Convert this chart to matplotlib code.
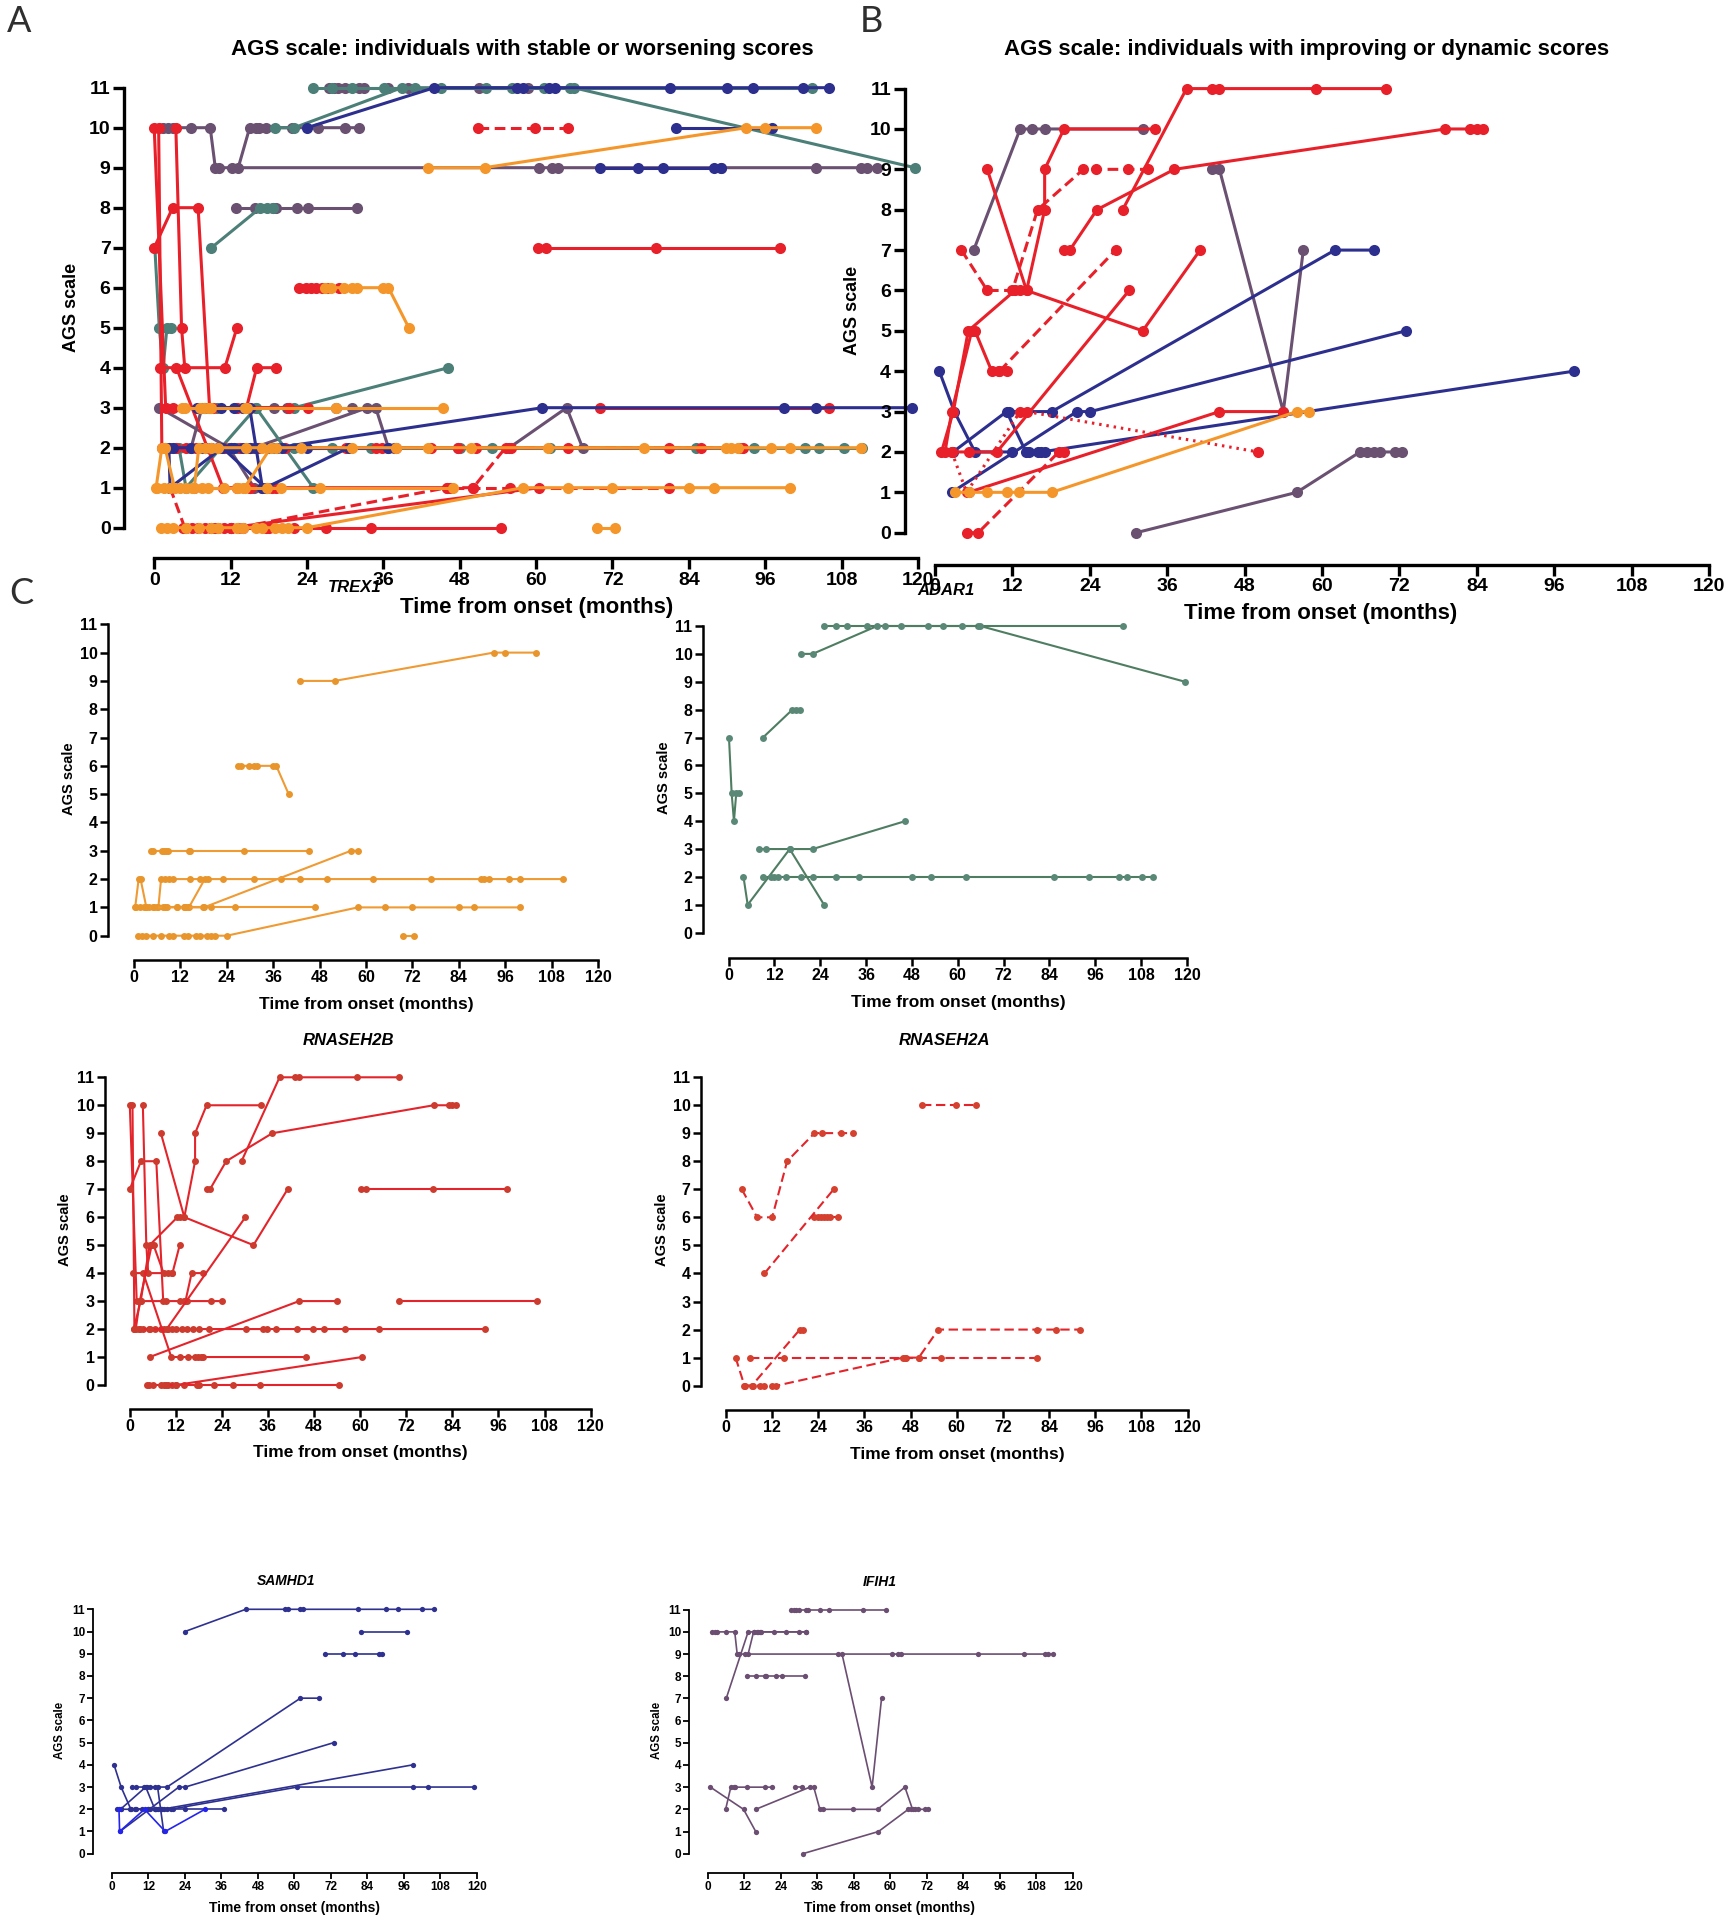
import matplotlib
matplotlib.use('Agg')
import matplotlib.pyplot as plt

W, H, DPI = 1728, 1920, 100
fig = plt.figure(figsize=(W / DPI, H / DPI), dpi=DPI)

NARROW = ['Liberation Sans Narrow', 'Liberation Sans', 'DejaVu Sans']
SANS = ['Liberation Sans', 'DejaVu Sans']

# ---------------------------------------------------------------- data
X_TICKS = list(range(0, 121, 12))
Y_TICKS = list(range(0, 12))

# TREX1 ------------------------------------------------------------
TREX1_A = [
    ([43, 51.9, 93, 96, 104], [9, 9, 10, 10, 10]),
    ([26.9, 27.8, 29.8, 31, 31.8, 36, 36.8, 40], [6, 6, 6, 6, 6, 6, 6, 5]),
    ([4.4, 4.9, 7.2, 7.8, 8.4, 8.9, 14.3, 14.6, 28.5, 45.3], [3] * 10),
    ([0.3, 1.2, 1.7, 3.2, 6.3, 7, 8, 9, 10, 14.5, 17, 19.2, 23, 31, 38, 43, 49.8, 61.9, 76.9, 89.8, 90.6, 91.7, 96.9, 99.9, 111],
     [1, 2, 2, 1, 1] + [2] * 20),
    ([0.5, 1.5, 2.5, 4, 5, 6, 7.5, 8.5, 11, 13, 14, 17.8, 19.9, 26, 46.9], [1] * 15),
    ([13.2, 14.2, 18.3], [1, 1, 2]),
    ([1, 2, 3, 5, 7, 9, 10, 13, 14, 16, 17, 19, 20, 21, 24, 57.9, 65, 72, 84, 88, 99.9], [0] * 15 + [1] * 6),
    ([69.5, 72.4], [0, 0]),
]
TREX1_B = [
    ([3.1, 5.2, 8.1, 11.1, 13.1, 18.1, 56.1, 58], [1, 1, 1, 1, 1, 1, 3, 3]),
]

# ADAR1 ------------------------------------------------------------
ADAR1_A = [
    ([25, 28, 31, 36.1, 65.3, 103.3], [11] * 6),
    ([19, 22, 38.9, 41, 45.1, 52.2, 56.2, 61.2, 65.9, 119.5], [10, 10, 11, 11, 11, 11, 11, 11, 11, 9]),
    ([9, 16.7, 17.7, 18.7], [7, 8, 8, 8]),
    ([0.1, 0.8, 1.4, 2, 2.6], [7, 5, 4, 5, 5]),
    ([7.9, 9.9, 16, 22, 46.2], [3, 3, 3, 3, 4]),
    ([3.9, 5, 16, 25], [2, 1, 3, 1]),
    ([8.9, 11, 12, 13, 15.1, 18.9, 22, 28, 34.1, 48, 53.1, 62.2, 85.2, 94.3, 102.3, 104.4, 108.3, 111.2], [2] * 18),
]
ADAR1_B = []

# RNASEH2B ---------------------------------------------------------
RNASEH2B_A = [
    ([0, 1.8, 2.9, 13, 14, 15, 21.2, 24.1], [10, 3, 3, 3, 3, 3, 3, 3]),
    ([0.7, 1.2, 2.3, 3.5, 5, 6.5, 8, 9, 10, 11, 12, 13.5, 15, 16.5, 18, 20.5, 30.2, 34.8, 35.8, 38, 43.5, 47.8, 50.5, 56, 65, 92.5],
     [10] + [2] * 25),
    ([3.4, 4.3, 4.8, 11.1, 13], [10, 5, 4, 4, 5]),
    ([0, 2.9, 6.9, 8.7, 9.3], [7, 8, 8, 3, 3]),
    ([0.9, 3.5, 10.8, 13, 15.1, 17, 17.8, 18.5, 19.1, 46], [4, 4, 1, 1, 1, 1, 1, 1, 1, 1]),
    ([14.5, 16.1, 19.1], [3, 4, 4]),
    ([4.5, 5, 6, 8, 9, 10, 11, 12, 14, 17.5, 18, 22, 27, 34, 54.5], [0] * 15),
    ([9.5, 12, 60.5], [0, 0, 1]),
    ([60.3, 61.5, 78.9, 98.3], [7, 7, 7, 7]),
    ([70, 106], [3, 3]),
]
RNASEH2B_B = [
    ([29.1, 39, 42.9, 44.1, 59.1, 70], [8, 11, 11, 11, 11, 11]),
    ([20, 20.9, 25.1, 37.1, 79.1, 83, 84, 85], [7, 7, 8, 9, 10, 10, 10, 10]),
    ([1.0, 2.84, 5.16, 12.4, 13.2, 14.2, 17.0, 17.0, 20.0, 34.1], [2, 3, 5, 6, 6, 6, 8, 9, 10, 10]),
    ([8.1, 14.2, 32.2, 41.1], [9, 6, 5, 7]),
    ([1.55, 2.6, 5.7, 6.2, 8.8, 10.0, 11.1], [2, 3, 5, 5, 4, 4, 4]),
    ([2.6, 5.2, 9.6, 30.1], [2, 2, 2, 6]),
    ([5.2, 44.1, 54], [1, 3, 3]),
]

# RNASEH2A ---------------------------------------------------------
RNASEH2A_A = [
    ([50.9, 59.8, 65], [10, 10, 10]),
    ([22.8, 23.8, 24.6, 25.4, 26.3, 27.1, 29], [6] * 7),
    ([2.5, 4.8, 6.9, 8.9, 9.8, 12, 13.1, 46, 46.7, 50.1, 55.2, 80.9, 85.9, 91.9],
     [1, 0, 0, 0, 0, 0, 0, 1, 1, 1, 2, 2, 2, 2]),
    ([6.2, 15.1, 46.5, 50.1, 55.9, 80.9], [1] * 6),
]
RNASEH2A_B = [
    ([4.1, 8.1, 12, 15.9, 23, 24.9, 30, 33.1], [7, 6, 6, 8, 9, 9, 9, 9]),
    ([10, 28], [4, 7]),
    ([4.9, 6.7, 19.2, 20], [0, 0, 2, 2]),
]

# RNASEH2C (dotted, panel B only) ----------------------------------
RNASEH2C_B = [
    ([2.6, 4.9, 13.2, 14.2, 50.1], [2, 1, 3, 3, 2]),
]

# SAMHD1 -----------------------------------------------------------
SAMHD1_A = [
    ([24, 44, 57, 58, 62, 63, 81, 90, 94, 102, 106], [10] + [11] * 10),
    ([82, 97], [10, 10]),
    ([70, 76, 80, 88, 89], [9] * 5),
    ([1.7, 3, 7.5, 12.5, 15, 19.3, 61, 99, 104, 119], [2, 2, 2, 2, 2, 2, 3, 3, 3, 3]),
    ([6.7, 8, 10.5, 12.5, 14, 15, 17], [3, 3, 3, 3, 3, 3, 1]),
    ([5.8, 8, 10, 12, 14, 16, 18, 20, 24, 36.7], [2] * 10),
]
SAMHD1_A_LIGHT = [
    ([2.3, 2.5, 10.7, 17.5, 30.6], [2, 1, 2, 1, 2]),
]
SAMHD1_B = [
    ([0.67, 3, 6.2, 12], [4, 3, 2, 2]),
    ([2.8, 11.1, 14.1, 16, 17], [2, 3, 2, 2, 2]),
    ([2.6, 22, 24.1, 73], [1, 3, 3, 5]),
    ([11.5, 18.1, 62, 68.1], [3, 3, 7, 7]),
    ([14.5, 16.5, 99], [2, 2, 4]),
]

# IFIH1 ------------------------------------------------------------
IFIH1_A = [
    ([27.4, 28.2, 28.9, 29.9, 32.1, 32.9, 36.8, 39.9, 51.1, 58.7], [11] * 10),
    ([1.4, 2.2, 3, 5.8, 8.8, 9.6, 10.2, 60.5, 62.5, 63.5, 89, 104, 111, 112, 113.5], [10] * 5 + [9] * 10),
    ([12.2, 13.2, 15, 16, 16.5, 17.6, 21.7, 25.8, 29.9, 32.1], [9, 9] + [10] * 8),
    ([12.8, 15.9, 18.7, 19.2, 22.5, 24.2, 31.8], [8] * 7),
    ([0.8, 11.7, 15.7], [3, 2, 1]),
    ([5.8, 7.5, 8.6, 9, 12.8, 18.9, 20.9], [2, 3, 3, 3, 3, 3, 3]),
    ([15.7, 33.5, 34.8, 36.8, 37.7, 47.8, 55.8, 64.8, 67.3], [2, 3, 3, 2, 2, 2, 2, 3, 2]),
    ([28.5, 31], [3, 3]),
]
IFIH1_B = [
    ([6, 13.2, 15.1, 17, 32.2], [7, 10, 10, 10, 10]),
    ([31.2, 56.1, 65.9, 66.9, 68, 69, 71.3, 72.4], [0, 1, 2, 2, 2, 2, 2, 2]),
    ([42.9, 44.1, 54, 57.1], [9, 9, 3, 7]),
]

# ---------------------------------------------------------------- styles
RED = '#E8202A'
NAVY = '#2D2F8E'
TEAL = '#4B7F78'
PURPLE = '#6A5071'
ORANGE = '#F5962A'


def fx(x):
    return x / W


def fy(y):
    return 1 - y / H


def make_axes(x0, x120, y11, y0):
    return fig.add_axes([fx(x0), fy(y0), (x120 - x0) / W, (y0 - y11) / H])


def style_axes(ax, left_off, bottom_off, spine_lw, tick_len, tick_fs, pad):
    ax.set_xlim(0, 120)
    ax.set_ylim(0, 11)
    ax.patch.set_visible(False)
    for s in ('top', 'right'):
        ax.spines[s].set_visible(False)
    ax.spines['left'].set_position(('outward', left_off * 72 / DPI))
    ax.spines['bottom'].set_position(('outward', bottom_off * 72 / DPI))
    for s in ('left', 'bottom'):
        ax.spines[s].set_linewidth(spine_lw)
        ax.spines[s].set_capstyle('projecting')
    ax.set_xticks(X_TICKS)
    ax.set_yticks(Y_TICKS)
    ax.tick_params(length=tick_len, width=spine_lw, labelsize=tick_fs, pad=pad, colors='black')
    for lab in ax.get_xticklabels() + ax.get_yticklabels():
        lab.set_fontfamily(NARROW)
        lab.set_fontweight('bold')


def draw(ax, trajs, color, lw, ms, mcolor=None, dashes=None, z=2):
    mc = mcolor or color
    for xs, ys in trajs:
        kw = {}
        if dashes is not None:
            kw['dashes'] = dashes
        ax.plot(xs, ys, color=color, lw=lw, marker='o', ms=ms, mfc=mc, mec=mc,
                mew=0, clip_on=False, zorder=z, solid_capstyle='round', **kw)


def ftext(x, y, s, **kw):
    kw.setdefault('ha', 'center')
    kw.setdefault('va', 'center')
    fig.text(fx(x), fy(y), s, **kw)


# ---------------------------------------------------------------- panel A
axA = make_axes(154.2, 918, 87.7, 527.7)
style_axes(axA, 29.7, 30.5, 2.4, 8, 14, 2)
LW_AB, MS_AB = 2.2, 8
draw(axA, IFIH1_A, PURPLE, LW_AB, MS_AB, z=2)
draw(axA, ADAR1_A, TEAL, LW_AB, MS_AB, z=3)
draw(axA, RNASEH2B_A, RED, LW_AB, MS_AB, z=4)
draw(axA, RNASEH2A_A, RED, LW_AB, MS_AB, dashes=(3.5, 1.8), z=4)
draw(axA, SAMHD1_A + SAMHD1_A_LIGHT, NAVY, LW_AB, MS_AB, z=5)
draw(axA, TREX1_A, ORANGE, LW_AB, MS_AB, z=6)

# ---------------------------------------------------------------- panel B
axB = make_axes(935, 1709, 88.6, 532.7)
style_axes(axB, 30, 31.8, 2.4, 8, 14, 2)
draw(axB, IFIH1_B, PURPLE, LW_AB, MS_AB, z=2)
draw(axB, SAMHD1_B, NAVY, LW_AB, MS_AB, z=3)
draw(axB, RNASEH2B_B, RED, LW_AB, MS_AB, z=4)
draw(axB, RNASEH2A_B, RED, LW_AB, MS_AB, dashes=(3.5, 1.8), z=4)
draw(axB, RNASEH2C_B, RED, LW_AB, MS_AB, dashes=(0.8, 1.6), z=4)
draw(axB, TREX1_B, ORANGE, LW_AB, MS_AB, z=6)

# ---------------------------------------------------------------- panel C
C_SPECS = [
    # name, trajs, line color, marker color, dashes, (x0,x120,y11,y0), offsets, row
    ('TREX1', [TREX1_A + TREX1_B], ['#EF9A33'], '#E8952C', None, (134, 598, 624.3, 935.7), (26, 24.3), 1),
    ('ADAR1', [ADAR1_A + ADAR1_B], ['#4F7D62'], '#5A8877', None, (728.6, 1187, 626, 932.7), (25.6, 25.3), 1),
    ('RNASEH2B', [RNASEH2B_A + RNASEH2B_B], ['#E3242B'], '#CC3B2E', None, (129.8, 590.6, 1077.3, 1385), (24.8, 24), 1),
    ('RNASEH2A', [RNASEH2A_A + RNASEH2A_B], ['#E3242B'], '#D5402F', (4.5, 2.2), (726, 1187.6, 1077, 1385.7), (25, 24.3), 1),
    ('SAMHD1', [SAMHD1_A + SAMHD1_B, SAMHD1_A_LIGHT], ['#2E318F', '#2424EE'], None, None, (112, 476.7, 1609.3, 1853.7), (19, 19.6), 3),
    ('IFIH1', [IFIH1_A + IFIH1_B], ['#6B4E72'], '#6B4E72', None, (708, 1072.7, 1609.7, 1853.7), (19, 19.6), 3),
]

for name, groups, colors, mcol, dsh, box, offs, row in C_SPECS:
    ax = make_axes(*box)
    if row == 1:
        style_axes(ax, offs[0], offs[1], 1.8, 6, 11.5, 1.5)
        lw, ms = 1.5, 5
    else:
        style_axes(ax, offs[0], offs[1], 1.3, 4.3, 8.5, 1.2)
        lw, ms = 1.2, 3.8
    for trajs, col in zip(groups, colors):
        draw(ax, trajs, col, lw, ms, mcolor=mcol or col, dashes=dsh)

# ---------------------------------------------------------------- texts
TITLE_A = 'AGS scale: individuals with stable or worsening scores'
TITLE_B = 'AGS scale: individuals with improving or dynamic scores'
XLABEL = 'Time from onset (months)'
YLABEL = 'AGS scale'

ftext(522, 49, TITLE_A, fontsize=16, fontweight='bold', family=NARROW)
ftext(1307, 50, TITLE_B, fontsize=16, fontweight='bold', family=NARROW)
ftext(537, 607, XLABEL, fontsize=16, fontweight='bold', family=NARROW)
ftext(1321, 614, XLABEL, fontsize=16, fontweight='bold', family=NARROW)
ftext(72, 307.5, YLABEL, fontsize=13, fontweight='bold', family=SANS, rotation=90)
ftext(852.5, 310, YLABEL, fontsize=13, fontweight='bold', family=SANS, rotation=90)

for lab, x, y in (('A', 19, 22), ('B', 871, 22), ('C', 21, 593)):
    ftext(x, y, lab, fontsize=26, family=['Lato', 'Liberation Sans', 'DejaVu Sans'],
          fontweight='normal', color='#2f2f2f')

C_TITLES = [('TREX1', 355, 588), ('ADAR1', 946, 590), ('RNASEH2B', 348, 1040.7),
            ('RNASEH2A', 944.5, 1040.7), ('SAMHD1', 285.7, 1580.7), ('IFIH1', 880, 1581.7)]
for i, (t, x, y) in enumerate(C_TITLES):
    ftext(x, y, t, fontsize=12 if i < 4 else 10, fontweight='bold', style='italic', family=SANS)

C_XLABELS = [(366, 1004), (958, 1002.7), (360, 1453), (957, 1454), (294.7, 1908), (890, 1908)]
for i, (x, y) in enumerate(C_XLABELS):
    ftext(x, y, XLABEL, fontsize=12.5 if i < 4 else 10, fontweight='bold', family=NARROW)

C_YLABELS = [(68.6, 779), (664.5, 778), (65, 1230), (661.7, 1230), (60, 1730.7), (656.7, 1730.7)]
for i, (x, y) in enumerate(C_YLABELS):
    ftext(x, y, YLABEL, fontsize=10.5 if i < 4 else 8.3, fontweight='bold', family=SANS, rotation=90)

fig.savefig('out.png', dpi=DPI, facecolor='white')
